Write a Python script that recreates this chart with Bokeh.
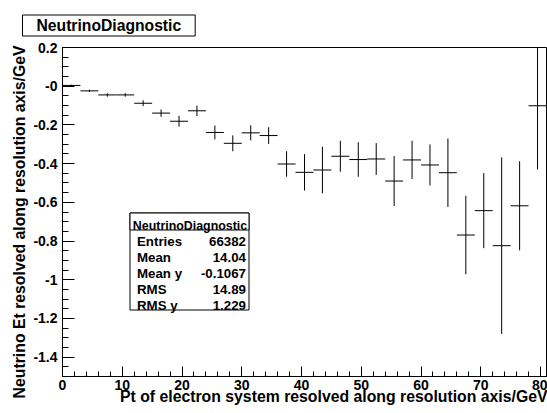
from bokeh.plotting import figure
from bokeh.models import Range1d, FixedTicker, Label, BoxAnnotation, ColumnDataSource, Title
from bokeh.embed import file_html
from bokeh.resources import INLINE

# ---- data: profile of neutrino Et resolution vs electron-system Pt ----
bin_centers = [1.5, 4.5, 7.5, 10.5, 13.5, 16.5, 19.5, 22.5, 25.5, 28.5,
               31.5, 34.5, 37.5, 40.5, 43.5, 46.5, 49.5, 52.5, 55.5, 58.5,
               61.5, 64.5, 67.5, 70.5, 73.5, 76.5, 79.5]
bin_half_width = 1.5
mean_resolution = [0.004, -0.024, -0.045, -0.045, -0.088, -0.139, -0.181, -0.127, -0.239, -0.295,
                   -0.241, -0.255, -0.402, -0.445, -0.433, -0.362, -0.379, -0.376, -0.490, -0.381,
                   -0.407, -0.447, -0.769, -0.643, -0.824, -0.618, -0.101]
resolution_error = [0.004, 0.006, 0.009, 0.009, 0.015, 0.019, 0.028, 0.027, 0.036, 0.041,
                    0.039, 0.043, 0.066, 0.094, 0.120, 0.080, 0.089, 0.082, 0.129, 0.099,
                    0.106, 0.177, 0.203, 0.194, 0.456, 0.230, 0.329]

x_ticks = [0, 10, 20, 30, 40, 50, 60, 70, 80]
x_tick_labels = ["0", "10", "20", "30", "40", "50", "60", "70", "80"]
y_ticks = [-1.4, -1.2, -1.0, -0.8, -0.6, -0.4, -0.2, 0.0, 0.2]
y_tick_labels = ["-1.4", "-1.2", "-1", "-0.8", "-0.6", "-0.4", "-0.2", "-0", "0.2"]

hist_name = "NeutrinoDiagnostic"
x_title = "Pt of electron system resolved along resolution axis/GeV"
y_title = "Neutrino Et resolved along resolution axis/GeV"
stat_names = ["Entries", "Mean", "Mean y", "RMS", "RMS y"]
stat_values = ["66382", "14.04", "-0.1067", "14.89", "1.229"]

# ---- layout ----
W, H = 547, 413
LEFT, RIGHT, TOP, BOTTOM = 62, 1, 47, 37
X_MIN, X_MAX = 0, 81
Y_MIN, Y_MAX = -1.5, 0.2
FONT = "Liberation Sans"


def px2x(px):
    return X_MIN + (px - LEFT) / (W - LEFT - RIGHT) * (X_MAX - X_MIN)


def py2y(py):
    return Y_MAX - (py - TOP) / (H - TOP - BOTTOM) * (Y_MAX - Y_MIN)


p = figure(width=W, height=H, x_range=Range1d(X_MIN, X_MAX), y_range=Range1d(Y_MIN, Y_MAX),
           output_backend="svg", toolbar_location=None,
           min_border_left=LEFT, min_border_right=RIGHT,
           min_border_top=TOP, min_border_bottom=BOTTOM)
p.grid.visible = False
p.background_fill_color = "white"
p.border_fill_color = "white"
p.outline_line_color = "black"
p.outline_line_width = 1

# histogram title in a framed box, top left
p.title = Title(text=hist_name, align="left", offset=-40, standoff=23,
                text_font=FONT, text_font_style="bold", text_font_size="15.7px",
                text_color="black", background_fill_color="white",
                border_line_color="black", border_line_width=1,
                padding=dict(left=14, right=14, top=2, bottom=2))

# axes: ROOT-style inward ticks, bold labels
p.xaxis.ticker = FixedTicker(ticks=x_ticks, minor_ticks=list(range(0, 82, 2)))
p.xaxis.major_label_overrides = dict(zip(x_ticks, x_tick_labels))
p.yaxis.ticker = FixedTicker(ticks=y_ticks,
                             minor_ticks=[round(-1.5 + 0.05 * i, 2) for i in range(35)])
p.yaxis.major_label_overrides = dict(zip(y_ticks, y_tick_labels))

for ax, tin, mtin, stand in ((p.xaxis, 10, 5, 3), (p.yaxis, 12, 6, 5)):
    ax.axis_line_color = "black"
    ax.major_tick_line_color = "black"
    ax.minor_tick_line_color = "black"
    ax.major_tick_in = tin
    ax.major_tick_out = 0
    ax.minor_tick_in = mtin
    ax.minor_tick_out = 0
    ax.major_label_standoff = stand
    ax.major_label_text_font = FONT
    ax.major_label_text_font_style = "bold"
    ax.major_label_text_font_size = "14px"
    ax.major_label_text_color = "black"

# axis titles, right-aligned at the axis ends
p.add_layout(Title(text=x_title, align="right", standoff=-14, offset=-1,
                   text_font=FONT, text_font_style="bold", text_font_size="15.8px",
                   text_color="black"), "below")
p.add_layout(Title(text=y_title, align="right", standoff=5, offset=-2,
                   text_font=FONT, text_font_style="bold", text_font_size="15.8px",
                   text_color="black"), "left")

# profile points with error bars
src = ColumnDataSource(dict(
    x=bin_centers,
    y=mean_resolution,
    x0=[c - bin_half_width for c in bin_centers],
    x1=[c + bin_half_width for c in bin_centers],
    lo=[v - e for v, e in zip(mean_resolution, resolution_error)],
    hi=[v + e for v, e in zip(mean_resolution, resolution_error)],
))
p.segment(x0="x0", y0="y", x1="x1", y1="y", source=src, line_color="black", line_width=1)
p.segment(x0="x", y0="lo", x1="x", y1="hi", source=src, line_color="black", line_width=1)

# statistics box
p.add_layout(BoxAnnotation(left=px2x(129.5), right=px2x(248.5), top=py2y(212.5),
                           bottom=py2y(309.5), fill_color="white", fill_alpha=1,
                           line_color="black", line_width=1, line_alpha=1))
p.add_layout(BoxAnnotation(left=px2x(129.5), right=px2x(248.5), top=py2y(212.5),
                           bottom=py2y(229.5), fill_color="white", fill_alpha=1,
                           line_color="black", line_width=1, line_alpha=1))
p.add_layout(Label(x=px2x(189.5), y=py2y(225.5), text=hist_name, text_align="center",
                   text_baseline="alphabetic", text_font=FONT, text_font_style="bold",
                   text_font_size="12.4px", text_color="black"))
row_baselines = [240.5, 256.5, 272.5, 289, 305]
for name, val, by in zip(stat_names, stat_values, row_baselines):
    p.add_layout(Label(x=px2x(136.5), y=py2y(by), text=name, text_align="left",
                       text_baseline="alphabetic", text_font=FONT, text_font_style="bold",
                       text_font_size="13.3px", text_color="black"))
    p.add_layout(Label(x=px2x(245.5), y=py2y(by), text=val, text_align="right",
                       text_baseline="alphabetic", text_font=FONT, text_font_style="bold",
                       text_font_size="13.3px", text_color="black"))

open("out.html", "w").write(file_html(p, INLINE))
